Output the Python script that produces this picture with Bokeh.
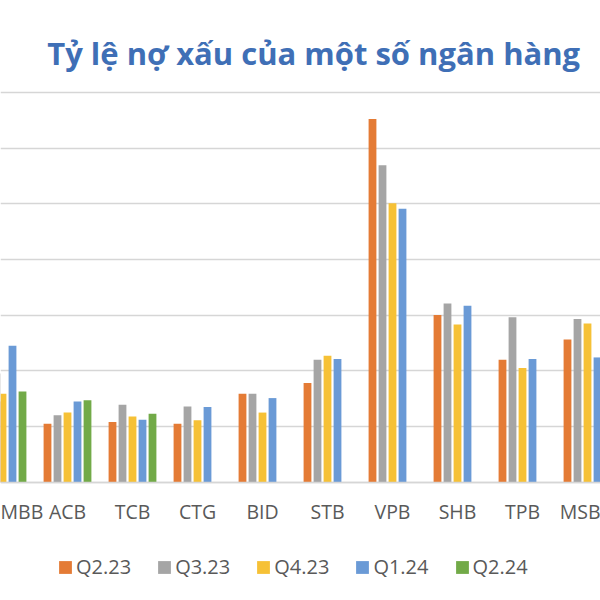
from bokeh.plotting import figure
from bokeh.models import (ColumnDataSource, Range1d, FixedTicker, Grid, Label,
                          Legend, LegendItem)
from bokeh.transform import dodge
from bokeh.embed import file_html
from bokeh.resources import INLINE

nan = float("nan")

banks = ["MBB", "ACB", "TCB", "CTG", "BID", "STB", "VPB", "SHB", "TPB", "MSB"]
q2_23 = [1.45, 1.05, 1.08, 1.05, 1.59, 1.78, 6.52, 3.00, 2.20, 2.56]
q3_23 = [1.95, 1.20, 1.39, 1.36, 1.59, 2.20, 5.69, 3.21, 2.96, 2.93]
q4_23 = [1.59, 1.25, 1.18, 1.11, 1.25, 2.27, 5.01, 2.83, 2.05, 2.85]
q1_24 = [2.45, 1.45, 1.12, 1.35, 1.51, 2.21, 4.91, 3.17, 2.21, 2.24]
q2_24 = [1.63, 1.47, 1.23, nan, nan, nan, nan, nan, nan, nan]

series_names = ["Q2.23", "Q3.23", "Q4.23", "Q1.24", "Q2.24"]
series_values = [q2_23, q3_23, q4_23, q1_24, q2_24]
colors = ["#E47B35", "#A5A5A5", "#F6C136", "#6A9AD6", "#72AA48"]
y_ticks = [0, 1, 2, 3, 4, 5, 6, 7]
title_text = "Tỷ lệ nợ xấu của một số ngân hàng"

xs = list(range(len(banks)))
data = {"x": xs}
for name, vals in zip(series_names, series_values):
    data[name] = vals
src = ColumnDataSource(data)

PX_X = 65.0          # pixels per category
PX_Y = 55.7          # pixels per percentage point
X0 = 2.0             # page x of first category centre
Y0 = 481.7           # page y of the zero line
W, H = 600, 600

p = figure(frame_width=W, frame_height=H,
           x_range=Range1d(-X0 / PX_X, (W - X0) / PX_X),
           y_range=Range1d(-(H - Y0) / PX_Y, Y0 / PX_Y),
           output_backend="svg", toolbar_location=None,
           y_axis_location=None, min_border=0,
           background_fill_color="white", border_fill_color="white")
p.outline_line_color = None
p.xgrid.visible = False
p.ygrid.visible = False

grid = Grid(dimension=1, ticker=FixedTicker(ticks=y_ticks),
            grid_line_color="#D6D6D6", grid_line_width=1.4)
p.add_layout(grid)

step = 10 / PX_X
bw = 7.8 / PX_X
items = []
for k, (name, col) in enumerate(zip(series_names, colors)):
    r = p.vbar(x=dodge("x", (k - 2) * step), top=name, width=bw, source=src,
               fill_color=col, line_color=None)
    items.append(LegendItem(label=name, renderers=[r]))

ax = p.xaxis[0]
ax.fixed_location = 0
ax.ticker = FixedTicker(ticks=xs)
ax.major_label_overrides = {i: b for i, b in enumerate(banks)}
ax.axis_line_color = "#D6D6D6"
ax.axis_line_width = 1.4
ax.major_tick_line_color = None
ax.minor_tick_line_color = None
ax.major_tick_out = 0
ax.major_tick_in = 0
ax.major_label_standoff = 16
ax.major_label_text_font = "Open Sans"
ax.major_label_text_font_size = "19.5px"
ax.major_label_text_color = "#595959"

legend = Legend(items=items, orientation="horizontal", location=(57, 20),
                glyph_width=16, glyph_height=16, label_standoff=3, spacing=25,
                label_text_font="Open Sans", label_text_font_size="20px",
                label_text_color="#595959", border_line_color=None,
                background_fill_alpha=0, padding=0, margin=0)
p.add_layout(legend)

title = Label(x=(46.7 - X0) / PX_X, y=7.70, text=title_text,
              text_font="Open Sans", text_font_style="bold",
              text_font_size="31px", text_color="#3F6FB6",
              text_baseline="alphabetic", text_align="left")
p.add_layout(title)

open("out.html", "w").write(file_html(p, INLINE))
